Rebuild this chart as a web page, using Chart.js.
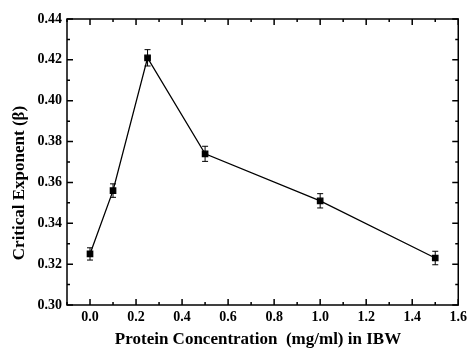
<!DOCTYPE html>
<html lang="en">
<head>
  <meta charset="UTF-8" />
  <title>Critical Exponent vs Protein Concentration</title>
  <script src="https://cdn.jsdelivr.net/npm/chart.js"></script>
  <style>
    html, body { margin: 0; padding: 0; background: #fff; }
    #wrap { width: 471px; height: 349px; }
  </style>
</head>
<body>
  <div id="wrap"><canvas id="grafica" width="471" height="349"></canvas></div>

  <script>
    // data
    const concentration = [0.0, 0.1, 0.25, 0.5, 1.0, 1.5];
    const beta = [0.325, 0.356, 0.421, 0.374, 0.351, 0.323];
    const betaErr = [0.003, 0.0033, 0.004, 0.0037, 0.0035, 0.0033];

    const xTicks = [0.0, 0.2, 0.4, 0.6, 0.8, 1.0, 1.2, 1.4, 1.6];
    const yTicks = [0.30, 0.32, 0.34, 0.36, 0.38, 0.40, 0.42, 0.44];

    const xTitle = 'Protein Concentration  (mg/ml) in IBW';
    const yTitle = 'Critical Exponent (β)';

    const serif = "'Liberation Serif', 'Times New Roman', serif";

    // error bars, drawn under the markers
    const errorBars = {
      id: 'errorBars',
      beforeDatasetsDraw(chart) {
        const ctx = chart.ctx;
        const xs = chart.scales.x, ys = chart.scales.y;
        ctx.save();
        ctx.strokeStyle = '#000';
        ctx.lineWidth = 1;
        concentration.forEach((c, i) => {
          const px = xs.getPixelForValue(c);
          const top = ys.getPixelForValue(beta[i] + betaErr[i]);
          const bot = ys.getPixelForValue(beta[i] - betaErr[i]);
          ctx.beginPath();
          ctx.moveTo(px, top); ctx.lineTo(px, bot);
          ctx.moveTo(px - 3, top); ctx.lineTo(px + 3, top);
          ctx.moveTo(px - 3, bot); ctx.lineTo(px + 3, bot);
          ctx.stroke();
        });
        ctx.restore();
      }
    };

    // box frame with inward ticks on all four sides, plus axis titles
    const frame = {
      id: 'frame',
      afterDraw(chart) {
        const ctx = chart.ctx;
        const a = chart.chartArea;
        const xs = chart.scales.x, ys = chart.scales.y;
        ctx.save();
        ctx.strokeStyle = '#000';
        ctx.lineWidth = 1.5;
        ctx.strokeRect(a.left, a.top, a.right - a.left, a.bottom - a.top);
        ctx.beginPath();
        const xMinor = [];
        for (let v = -0.1; v < 1.65; v += 0.2) xMinor.push(v);
        xTicks.forEach(v => {
          const p = xs.getPixelForValue(v);
          ctx.moveTo(p, a.bottom); ctx.lineTo(p, a.bottom - 6);
          ctx.moveTo(p, a.top); ctx.lineTo(p, a.top + 6);
        });
        xMinor.forEach(v => {
          const p = xs.getPixelForValue(v);
          ctx.moveTo(p, a.bottom); ctx.lineTo(p, a.bottom - 3);
          ctx.moveTo(p, a.top); ctx.lineTo(p, a.top + 3);
        });
        yTicks.forEach((v, i) => {
          const p = ys.getPixelForValue(v);
          ctx.moveTo(a.left, p); ctx.lineTo(a.left + 6, p);
          ctx.moveTo(a.right, p); ctx.lineTo(a.right - 6, p);
          if (i < yTicks.length - 1) {
            const m = ys.getPixelForValue(v + 0.01);
            ctx.moveTo(a.left, m); ctx.lineTo(a.left + 3, m);
            ctx.moveTo(a.right, m); ctx.lineTo(a.right - 3, m);
          }
        });
        ctx.stroke();

        // axis titles
        ctx.fillStyle = '#000';
        ctx.font = 'bold 17px ' + serif;
        ctx.textAlign = 'center';
        ctx.textBaseline = 'middle';
        ctx.fillText(xTitle, 258, 340);
        ctx.translate(20, 183);
        ctx.rotate(-Math.PI / 2);
        ctx.fillText(yTitle, 0, 0);
        ctx.restore();
      }
    };

    new Chart(document.getElementById('grafica'), {
      type: 'line',
      data: {
        datasets: [{
          data: concentration.map((c, i) => ({ x: c, y: beta[i] })),
          borderColor: '#000',
          backgroundColor: '#000',
          borderWidth: 1.3,
          pointStyle: 'rect',
          pointRadius: 3.8,
          pointHoverRadius: 3.8,
          tension: 0
        }]
      },
      options: {
        responsive: false,
        animation: false,
        layout: { padding: { left: 0, top: 19, right: 8, bottom: 0 } },
        plugins: { legend: { display: false }, tooltip: { enabled: false } },
        scales: {
          x: {
            type: 'linear',
            min: -0.1,
            max: 1.6,
            afterBuildTicks: s => { s.ticks = xTicks.map(v => ({ value: v })); },
            afterFit: s => { s.height = 44; },
            grid: { display: false, drawTicks: false },
            border: { display: false },
            ticks: {
              padding: 4,
              maxRotation: 0,
              color: '#000',
              font: { family: serif, size: 14, weight: 'bold' },
              callback: v => v.toFixed(1)
            }
          },
          y: {
            min: 0.30,
            max: 0.44,
            afterBuildTicks: s => { s.ticks = yTicks.map(v => ({ value: v })); },
            afterFit: s => { s.width = 67; },
            grid: { display: false, drawTicks: false },
            border: { display: false },
            ticks: {
              padding: 5,
              color: '#000',
              font: { family: serif, size: 14, weight: 'bold' },
              callback: v => v.toFixed(2)
            }
          }
        }
      },
      plugins: [errorBars, frame]
    });
  </script>
</body>
</html>
